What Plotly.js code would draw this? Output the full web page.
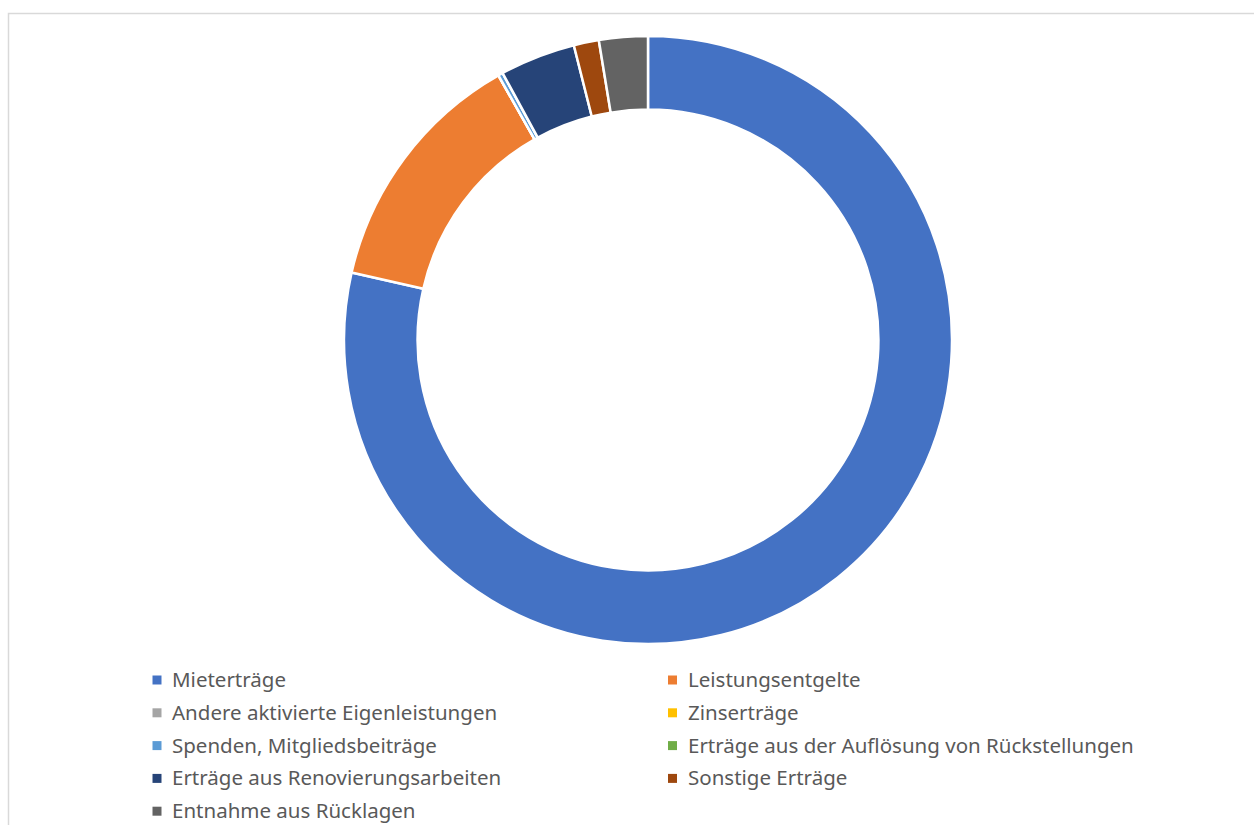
<!DOCTYPE html>
<html>
<head>
<meta charset="utf-8">
<script src="https://cdn.plot.ly/plotly-3.0.1.min.js"></script>
<style>
html,body{margin:0;padding:0;background:#fff;}
#chart{width:1254px;height:825px;}
</style>
</head>
<body>
<div id="chart"></div>
<script>
const categories = [
  "Mieterträge",
  "Leistungsentgelte",
  "Andere aktivierte Eigenleistungen",
  "Zinserträge",
  "Spenden, Mitgliedsbeiträge",
  "Erträge aus der Auflösung von Rückstellungen",
  "Erträge aus Renovierungsarbeiten",
  "Sonstige Erträge",
  "Entnahme aus Rücklagen"
];
const shares = [78.3, 13.2, 0, 0, 0.25, 0, 4.0, 1.33, 2.58];
const sliceColors = ["#4472C4", "#ED7D31", "#A5A5A5", "#FFC000", "#5B9BD5", "#70AD47", "#264478", "#9E480E", "#636363"];

const W = 1254, H = 825;
const cx = 648, cy = 340, R = 304;
const px = v => v / W;
const py = v => 1 - v / H;

const trace = {
  type: "pie",
  labels: categories,
  values: shares,
  sort: false,
  direction: "clockwise",
  rotation: 0,
  hole: 0.758,
  textinfo: "none",
  hoverinfo: "label+percent",
  showlegend: false,
  marker: {colors: sliceColors, line: {color: "#ffffff", width: 2.5}},
  domain: {
    x: [px(cx - R), px(cx + R)],
    y: [py(cy + R), py(cy - R)]
  }
};

// Legend drawn as annotations + square markers, two columns, row-major order
const legMarkerX = 157, legTextX = 171, legColStep = 515.5;
const legRowY0 = 680, legRowStep = 32.8, legSq = 9;
const annotations = [];
const shapes = [{
  type: "rect", xref: "paper", yref: "paper",
  x0: px(8.5), x1: 1.05, y0: -0.05, y1: py(13.5),
  line: {color: "#d9d9d9", width: 1.5}, fillcolor: "rgba(0,0,0,0)"
}];
categories.forEach((name, i) => {
  const col = i % 2, row = Math.floor(i / 2);
  const yc = legRowY0 + row * legRowStep;
  const mx = legMarkerX + col * legColStep;
  shapes.push({
    type: "rect", xref: "paper", yref: "paper",
    x0: px(mx - legSq / 2), x1: px(mx + legSq / 2),
    y0: py(yc + legSq / 2), y1: py(yc - legSq / 2),
    line: {width: 0}, fillcolor: sliceColors[i]
  });
  annotations.push({
    xref: "paper", yref: "paper",
    x: px(legTextX + col * legColStep), y: py(yc - 1),
    xanchor: "left", yanchor: "middle",
    text: name, showarrow: false, borderpad: 0,
    font: {family: "Noto Sans, Open Sans, sans-serif", size: 20.5, color: "#595959"}
  });
});

const layout = {
  width: W,
  height: H,
  margin: {l: 0, r: 0, t: 0, b: 0},
  paper_bgcolor: "#ffffff",
  showlegend: false,
  shapes: shapes,
  annotations: annotations
};

Plotly.newPlot("chart", [trace], layout, {displayModeBar: false, staticPlot: true});
</script>
</body>
</html>
